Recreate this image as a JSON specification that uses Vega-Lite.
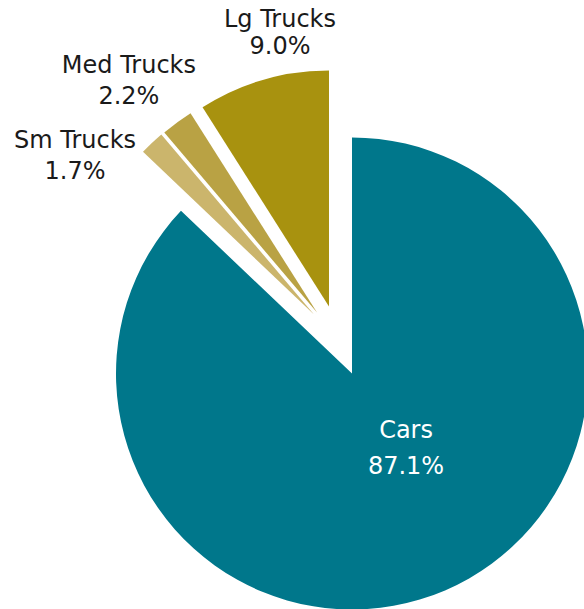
{
  "$schema": "https://vega.github.io/schema/vega-lite/v6.json",
  "width": 584,
  "height": 609,
  "autosize": {"type": "fit", "contains": "padding"},
  "padding": 0,
  "background": "white",
  "view": {"stroke": null},
  "config": {"text": {"font": "DejaVu Sans", "fontSize": 24, "align": "center", "baseline": "middle"}},
  "data": {
    "values": [
      {"type": "Cars", "value": 87.1, "order": 1, "label": "Cars\n87.1%"},
      {"type": "Sm Trucks", "value": 1.7, "order": 2, "label": "Sm Trucks\n1.7%"},
      {"type": "Med Trucks", "value": 2.2, "order": 3, "label": "Med Trucks\n2.2%"},
      {"type": "Lg Trucks", "value": 9.0, "order": 4, "label": "Lg Trucks\n9.0%"}
    ]
  },
  "transform": [
    {"stack": "value", "groupby": [], "sort": [{"field": "order", "order": "ascending"}], "as": ["v0", "v1"]},
    {"calculate": "(datum.v0 + datum.v1) / 2", "as": "mid"}
  ],
  "encoding": {
    "color": {
      "field": "type",
      "type": "nominal",
      "scale": {"domain": ["Cars", "Sm Trucks", "Med Trucks", "Lg Trucks"], "range": ["#00778B", "#CBB56C", "#B9A244", "#A8920F"]},
      "legend": null
    }
  },
  "layer": [
    {
      "transform": [{"filter": "datum.type === 'Cars'"}],
      "mark": {"type": "arc", "outerRadius": 236, "xOffset": 64, "yOffset": 69.5},
      "encoding": {"theta": {"field": "v0", "type": "quantitative", "scale": {"domain": [0, 100]}}, "theta2": {"field": "v1"}}
    },
    {
      "transform": [{"filter": "datum.type === 'Sm Trucks'"}],
      "mark": {"type": "arc", "outerRadius": 236, "xOffset": 26, "yOffset": 10.5},
      "encoding": {"theta": {"field": "v0", "type": "quantitative", "scale": {"domain": [0, 100]}}, "theta2": {"field": "v1"}}
    },
    {
      "transform": [{"filter": "datum.type === 'Med Trucks'"}],
      "mark": {"type": "arc", "outerRadius": 236, "xOffset": 29, "yOffset": 8.5},
      "encoding": {"theta": {"field": "v0", "type": "quantitative", "scale": {"domain": [0, 100]}}, "theta2": {"field": "v1"}}
    },
    {
      "transform": [{"filter": "datum.type === 'Lg Trucks'"}],
      "mark": {"type": "arc", "outerRadius": 236, "xOffset": 41, "yOffset": 2.5},
      "encoding": {"theta": {"field": "v0", "type": "quantitative", "scale": {"domain": [0, 100]}}, "theta2": {"field": "v1"}}
    },
    {
      "transform": [{"filter": "datum.type === 'Cars'"}],
      "mark": {"type": "text", "radius": 94, "xOffset": 64, "yOffset": 69.5, "dx": 17, "dy": -29, "lineBreak": "\n", "lineHeight": 36},
      "encoding": {"theta": {"field": "mid", "type": "quantitative", "scale": {"domain": [0, 100]}}, "text": {"field": "label"}, "color": {"value": "white"}}
    },
    {
      "transform": [{"filter": "datum.type === 'Lg Trucks'"}],
      "mark": {"type": "text", "radius": 276, "xOffset": 41, "yOffset": 2.5, "dx": 28, "dy": -21.5, "lineBreak": "\n", "lineHeight": 27},
      "encoding": {"theta": {"field": "mid", "type": "quantitative", "scale": {"domain": [0, 100]}}, "text": {"field": "label"}, "color": {"value": "#1a1a1a"}}
    },
    {
      "transform": [{"filter": "datum.type === 'Med Trucks'"}],
      "mark": {"type": "text", "radius": 297, "xOffset": 29, "yOffset": 8.5, "dx": -12, "dy": -7.5, "lineBreak": "\n", "lineHeight": 31},
      "encoding": {"theta": {"field": "mid", "type": "quantitative", "scale": {"domain": [0, 100]}}, "text": {"field": "label"}, "color": {"value": "#1a1a1a"}}
    },
    {
      "transform": [{"filter": "datum.type === 'Sm Trucks'"}],
      "mark": {"type": "text", "radius": 286, "xOffset": 26, "yOffset": 10.5, "dx": -42.5, "dy": 34.5, "lineBreak": "\n", "lineHeight": 31},
      "encoding": {"theta": {"field": "mid", "type": "quantitative", "scale": {"domain": [0, 100]}}, "text": {"field": "label"}, "color": {"value": "#1a1a1a"}}
    }
  ]
}
